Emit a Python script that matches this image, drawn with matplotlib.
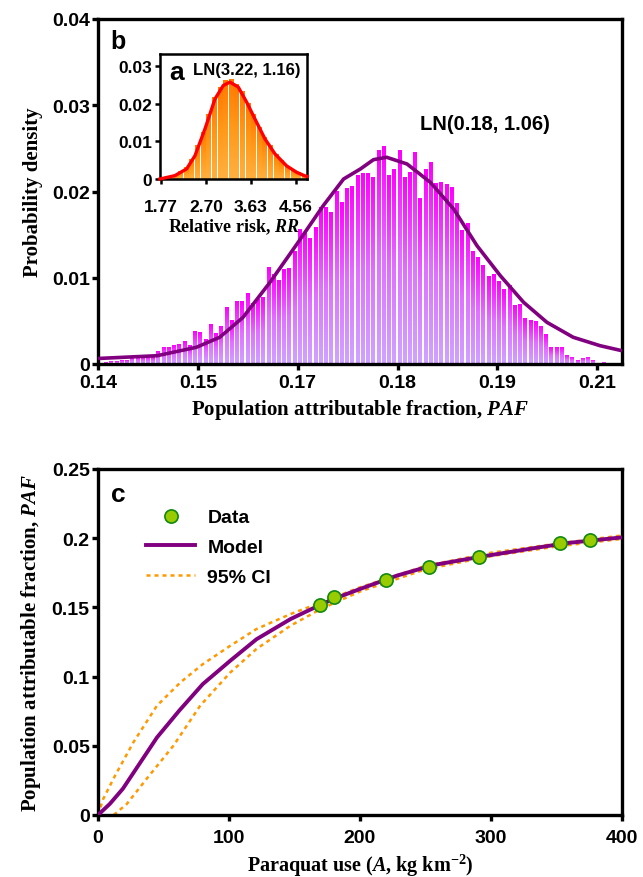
import numpy as np
import matplotlib
matplotlib.use('Agg')
import matplotlib.pyplot as plt
from matplotlib.colors import LinearSegmentedColormap
from matplotlib.ticker import FuncFormatter

plt.rcParams['mathtext.fontset'] = 'custom'
plt.rcParams['mathtext.rm'] = 'Liberation Serif:bold'
plt.rcParams['mathtext.it'] = 'Liberation Serif:italic:bold'
plt.rcParams['mathtext.bf'] = 'Liberation Serif:bold'

SANS = 'Liberation Sans'
SERIF = 'Liberation Serif'

# ---------------- data ----------------
# panel b: PAF histogram (100 bins) + lognormal fit
paf_density = [
    0.0001, 0.0002, 0.0003, 0.0003, 0.0004, 0.0004, 0.0008, 0.0008, 0.0008, 0.0007,
    0.0008, 0.0015, 0.0019, 0.0019, 0.0021, 0.0023, 0.0026, 0.0021, 0.0038, 0.0036,
    0.0028, 0.0046, 0.0035, 0.0043, 0.0066, 0.0051, 0.0072, 0.0072, 0.0082, 0.0070,
    0.0075, 0.0077, 0.0112, 0.0104, 0.0097, 0.0109, 0.0111, 0.0131, 0.0156, 0.0151,
    0.0145, 0.0158, 0.0181, 0.0182, 0.0176, 0.0200, 0.0187, 0.0204, 0.0206, 0.0219,
    0.0221, 0.0221, 0.0216, 0.0247, 0.0252, 0.0219, 0.0226, 0.0247, 0.0216, 0.0222,
    0.0245, 0.0192, 0.0226, 0.0234, 0.0209, 0.0210, 0.0208, 0.0205, 0.0186, 0.0155,
    0.0163, 0.0131, 0.0123, 0.0114, 0.0102, 0.0104, 0.0096, 0.0086, 0.0091, 0.0068,
    0.0069, 0.0053, 0.0050, 0.0049, 0.0043, 0.0034, 0.0019, 0.0019, 0.0019, 0.0010,
    0.0008, 0.0004, 0.0006, 0.0007, 0.0004, 0.0001, 0.0002, 0.0001, 0.0001, 0.00005,
]
paf_range = (0.14, 0.2119)
paf_ticks = [0.14, 0.1537, 0.1674, 0.1811, 0.1948, 0.2085]
paf_fit_x = [0.1400, 0.1481, 0.1535, 0.1567, 0.1599, 0.1636, 0.1673, 0.1709, 0.1737,
             0.1760, 0.1778, 0.1796, 0.1824, 0.1856, 0.1888, 0.1920, 0.1952, 0.1984,
             0.2016, 0.2052, 0.2089, 0.2119]
paf_fit_y = [0.00064, 0.00096, 0.00194, 0.0031, 0.00541, 0.00947, 0.01391, 0.01835,
             0.02145, 0.02261, 0.02369, 0.02397, 0.02319, 0.02107, 0.01797, 0.01372,
             0.01024, 0.00715, 0.00483, 0.0031, 0.00212, 0.00154]

# panel a: RR histogram + lognormal fit
rr_density = [0.0, 0.0002, 0.0010, 0.0019, 0.0030, 0.0052, 0.0088, 0.0124, 0.0172, 0.0218,
              0.0243, 0.0262, 0.0264, 0.0252, 0.0232, 0.0200, 0.0171, 0.0138, 0.0110, 0.0088,
              0.0065, 0.0048, 0.0034, 0.0023, 0.0016, 0.0010]
rr_range = (1.77, 4.79)
rr_ticks = [1.77, 2.70, 3.63, 4.56]
rr_fit_x = [1.749, 2.059, 2.301, 2.473, 2.679, 2.886, 3.058, 3.196, 3.368, 3.541,
            3.713, 3.920, 4.127, 4.368, 4.575, 4.732, 4.79]
rr_fit_y = [0.0, 0.0009, 0.0027, 0.0062, 0.0133, 0.0213, 0.0249, 0.0258, 0.0245, 0.0205,
            0.0160, 0.0107, 0.0067, 0.0035, 0.0018, 0.0009, 0.0007]

# panel c: PAF vs paraquat use
use_data = [169.5, 179.9, 219.8, 252.4, 290.8, 352.7, 375.6]
paf_data = [0.1517, 0.1573, 0.1700, 0.1790, 0.1862, 0.1963, 0.1989]
model_A = [0, 9, 19, 45, 62, 80, 101, 121, 147, 170, 180, 200, 228, 256, 292, 332, 358, 400]
model_paf = [0, 0.008, 0.019, 0.056, 0.0754, 0.0946, 0.1115, 0.127, 0.1416, 0.152, 0.1562,
             0.1633, 0.1729, 0.1806, 0.1866, 0.1927, 0.1965, 0.2006]
ci_up_A = [0, 4, 13, 27, 45, 63, 80, 101, 121, 147, 170, 200, 250, 300, 350, 400]
ci_up = [0, 0.0116, 0.0284, 0.0525, 0.079, 0.0959, 0.109, 0.1223, 0.1344, 0.1452, 0.1535,
         0.1645, 0.1800, 0.1895, 0.1960, 0.2020]
ci_lo_A = [12, 22, 37, 57.5, 78, 101, 121, 147, 170, 200, 250, 300, 350, 400]
ci_lo = [0, 0.008, 0.026, 0.050, 0.079, 0.103, 0.120, 0.1368, 0.1488, 0.1615, 0.1775,
         0.1870, 0.1940, 0.1995]

# ---------------- helpers ----------------
def gradient_bars(ax, edges, heights, cmap, frac):
    grad = np.linspace(0, 1, 64).reshape(-1, 1)
    for i, h in enumerate(heights):
        if h <= 0:
            continue
        w = edges[i + 1] - edges[i]
        x0 = edges[i] + w * (1 - frac) / 2
        ax.imshow(grad, cmap=cmap, extent=(x0, x0 + w * frac, 0, h), origin='lower',
                  aspect='auto', interpolation='bilinear', zorder=1)

def style_axes(ax, lw, ticklen, labelsize, xpad=2, ypad=2):
    for s in ax.spines.values():
        s.set_linewidth(lw)
    ax.tick_params(direction='out', length=ticklen, width=lw, labelsize=labelsize)
    ax.tick_params(axis='x', pad=xpad)
    ax.tick_params(axis='y', pad=ypad)
    for t in ax.get_xticklabels() + ax.get_yticklabels():
        t.set_fontfamily(SANS)
        t.set_fontweight('bold')

gfmt = FuncFormatter(lambda v, p: '0' if abs(v) < 1e-12 else f'{v:g}')

fig = plt.figure(figsize=(6.43, 8.78), dpi=100)

# ---------------- panel b ----------------
ax1 = fig.add_axes([98 / 643, 1 - 365 / 878, 524 / 643, 345 / 878])
paf_edges = np.linspace(paf_range[0], paf_range[1], len(paf_density) + 1)
cmap_b = LinearSegmentedColormap.from_list('b', ['#cfa3ff', '#e070ff', '#ff00ff'])
gradient_bars(ax1, paf_edges, paf_density, cmap_b, 0.68)
ax1.plot(paf_fit_x, paf_fit_y, color='#800080', lw=2.6, zorder=3, solid_capstyle='butt')
ax1.set_xlim(*paf_range)
ax1.set_ylim(0, 0.04)
ax1.set_xticks(paf_ticks)
ax1.set_xticklabels([f'{v:.2f}' for v in paf_ticks])
ax1.set_yticks([0, 0.01, 0.02, 0.03, 0.04])
ax1.yaxis.set_major_formatter(gfmt)
style_axes(ax1, 2.4, 4, 14, xpad=3.5, ypad=2)
ax1.set_xlabel(r'Population attributable fraction, $\mathit{PAF}$', fontfamily=SERIF,
               fontweight='bold', fontsize=15, labelpad=4)
ax1.set_ylabel('Probability density', fontfamily=SERIF, fontweight='bold', fontsize=15,
               labelpad=6)
ax1.text(0.038, 0.936, 'b', transform=ax1.transAxes, ha='center', va='center',
         fontfamily=SANS, fontweight='bold', fontsize=18)
ax1.text(0.739, 0.696, 'LN(0.18, 1.06)', transform=ax1.transAxes, ha='center',
         va='center', fontfamily=SANS, fontweight='bold', fontsize=14.5)

# ---------------- panel a (inset) ----------------
ax0 = fig.add_axes([160 / 643, 1 - 180 / 878, 147 / 643, 125 / 878])
rr_edges = np.linspace(rr_range[0], rr_range[1], len(rr_density) + 1)
cmap_a = LinearSegmentedColormap.from_list('a', ['#ffb040', '#ff9a1a', '#ff7a00'])
gradient_bars(ax0, rr_edges, rr_density, cmap_a, 0.85)
ax0.plot(rr_fit_x, rr_fit_y, color='#ff0000', lw=2.4, zorder=3, clip_on=False)
ax0.set_xlim(1.75, 4.79)
ax0.set_ylim(0, 0.0333)
ax0.set_xticks(rr_ticks)
ax0.set_xticklabels([f'{v:.2f}' for v in rr_ticks])
ax0.set_yticks([0, 0.01, 0.02, 0.03])
ax0.yaxis.set_major_formatter(gfmt)
style_axes(ax0, 1.8, 3.5, 12.5, xpad=11, ypad=2)
ax0.set_xlabel(r'Relative risk, $\mathit{RR}$', fontfamily=SERIF, fontweight='bold',
               fontsize=13, labelpad=2)
ax0.text(0.11, 0.855, 'a', transform=ax0.transAxes, ha='center', va='center',
         fontfamily=SANS, fontweight='bold', fontsize=19)
ax0.text(0.59, 0.875, 'LN(3.22, 1.16)', transform=ax0.transAxes, ha='center',
         va='center', fontfamily=SANS, fontweight='bold', fontsize=12)

# ---------------- panel c ----------------
ax2 = fig.add_axes([98 / 643, 1 - 816 / 878, 524 / 643, 346 / 878])
h_ci, = ax2.plot(ci_up_A, ci_up, color='#ff9900', lw=1.8, ls=(0, (1.6, 1.6)), zorder=2)
ax2.plot(ci_lo_A, ci_lo, color='#ff9900', lw=1.8, ls=(0, (1.6, 1.6)), zorder=2)
h_model, = ax2.plot(model_A, model_paf, color='#800080', lw=2.8, zorder=3)
h_data, = ax2.plot(use_data, paf_data, ls='none', marker='o', ms=9.5,
                   mfc='#99cc00', mec='#118811', mew=1.2, zorder=4)
ax2.set_xlim(0, 400)
ax2.set_ylim(0, 0.25)
ax2.set_xticks([0, 100, 200, 300, 400])
ax2.set_yticks([0, 0.05, 0.1, 0.15, 0.2, 0.25])
ax2.yaxis.set_major_formatter(gfmt)
style_axes(ax2, 2.4, 4, 14, xpad=6, ypad=2)
ax2.set_xlabel(r'Paraquat use ($\mathit{A}$, kg km$^{-2}$)', fontfamily=SERIF,
               fontweight='bold', fontsize=14.5, labelpad=4)
ax2.set_ylabel(r'Population attributable fraction, $\mathit{PAF}$', fontfamily=SERIF,
               fontweight='bold', fontsize=15, labelpad=6)
ax2.text(0.038, 0.928, 'c', transform=ax2.transAxes, ha='center', va='center',
         fontfamily=SANS, fontweight='bold', fontsize=19)
ax2.legend([h_data, h_model, h_ci], ['Data', 'Model', '95% CI'], loc='upper left',
           bbox_to_anchor=(0.092, 0.885), frameon=False, borderaxespad=0, borderpad=0,
           prop={'family': SANS, 'weight': 'bold', 'size': 14}, handlelength=2.5,
           handletextpad=0.65, labelspacing=0.62)

fig.savefig('out.png', dpi=100)
